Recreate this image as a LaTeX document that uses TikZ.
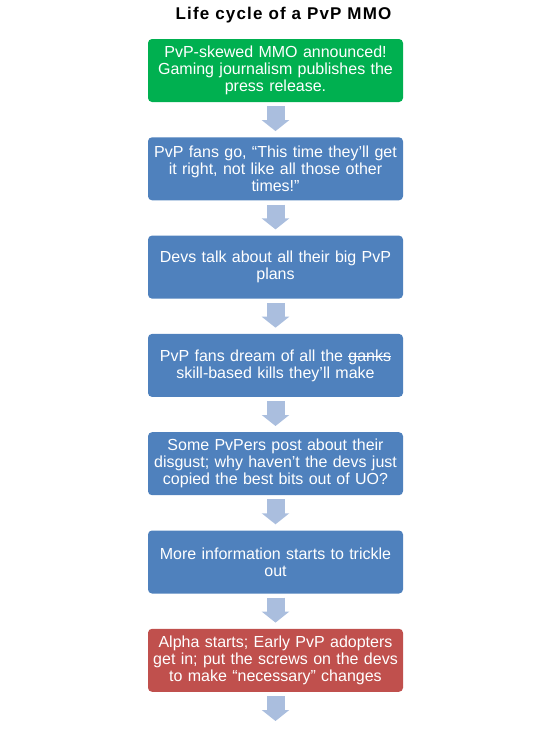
\documentclass[tikz,border=0pt]{standalone}
\usepackage{fontspec}
\setmainfont{Liberation Sans}
\newfontfamily\titlefont[LetterSpace=7]{Liberation Sans}
\usetikzlibrary{arrows.meta}
\definecolor{stagegreen}{RGB}{0,176,80}
\definecolor{stageblue}{RGB}{79,129,189}
\definecolor{stagered}{RGB}{192,80,77}
\definecolor{flowblue}{RGB}{170,190,222}
\newcommand{\struck}[1]{\setbox0\hbox{#1}\rlap{\rule[0.3em]{\wd0}{0.7pt}}\box0}

\begin{document}
\begin{tikzpicture}[x=1pt, y=1pt,
  stage/.style={rectangle, rounded corners=4pt, minimum height=63pt, minimum width=255pt, text width=250pt, inner sep=0pt, align=center, text=white, font=\fontsize{16}{17}\selectfont},
  heading/.style={font=\titlefont\bfseries\fontsize{17}{20}\selectfont},
  flow/.style={line width=18pt, flowblue, -{Triangle[width=27pt, length=11pt]}}
]
\useasboundingbox (0,0) rectangle (551,-734);

\node[heading, anchor=base] (title) at (283.5,-19) {Life cycle of a PvP MMO};

\node[stage, fill=stagegreen] (s1) at (275.5,-70.5) {PvP-skewed MMO announced!\\Gaming journalism publishes the\\press release.};
\node[stage, fill=stageblue] (s2) at (275.5,-168.8) {PvP fans go, “This time they’ll get\\it right, not like all those other\\times!”};
\node[stage, fill=stageblue] (s3) at (275.5,-267.1) {Devs talk about all their big PvP\\plans};
\node[stage, fill=stageblue] (s4) at (275.5,-365.4) {PvP fans dream of all the \struck{ganks}\\skill-based kills they’ll make};
\node[stage, fill=stageblue] (s5) at (275.5,-463.7) {Some PvPers post about their\\disgust; why haven’t the devs just\\copied the best bits out of UO?};
\node[stage, fill=stageblue] (s6) at (275.5,-562) {More information starts to trickle\\out};
\node[stage, fill=stagered] (s7) at (275.5,-660.3) {Alpha starts; Early PvP adopters\\get in; put the screws on the devs\\to make “necessary” changes};
\coordinate (tail) at ([yshift=-29pt]s7.south);

\draw[flow] ([yshift=-4pt]s1.south) -- ([yshift=6pt]s2.north);
\draw[flow] ([yshift=-4pt]s2.south) -- ([yshift=6pt]s3.north);
\draw[flow] ([yshift=-4pt]s3.south) -- ([yshift=6pt]s4.north);
\draw[flow] ([yshift=-4pt]s4.south) -- ([yshift=6pt]s5.north);
\draw[flow] ([yshift=-4pt]s5.south) -- ([yshift=6pt]s6.north);
\draw[flow] ([yshift=-4pt]s6.south) -- ([yshift=6pt]s7.north);
\draw[flow] ([yshift=-4pt]s7.south) -- (tail);

\end{tikzpicture}
\end{document}
